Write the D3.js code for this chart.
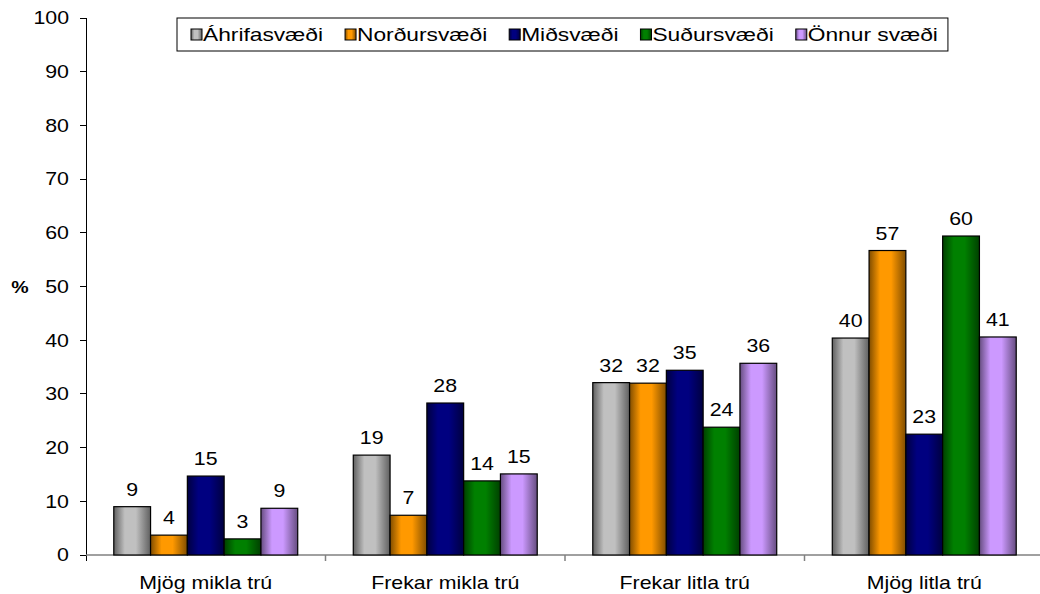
<!DOCTYPE html>
<html><head><meta charset="utf-8">
<script src="https://cdn.jsdelivr.net/npm/d3@7"></script>
<style>body{margin:0;background:#fff}svg{display:block}</style>
</head><body>
<svg id="c" width="1040" height="594"></svg>
<script>
const categories = ["Mjög mikla trú", "Frekar mikla trú", "Frekar litla trú", "Mjög litla trú"];
const seriesNames = ["Áhrifasvæði", "Norðursvæði", "Miðsvæði", "Suðursvæði", "Önnur svæði"];
const seriesColors = ["#c0c0c0", "#ff9900", "#000080", "#008000", "#cc99ff"];
const valAhrif  = [9.0, 18.6, 32.1, 40.4];
const valNordur = [3.7, 7.4, 32.0, 56.7];
const valMid    = [14.7, 28.3, 34.4, 22.5];
const valSudur  = [3.0, 13.8, 23.8, 59.4];
const valOnnur  = [8.7, 15.1, 35.7, 40.6];
const labelsAhrif  = ["9", "19", "32", "40"];
const labelsNordur = ["4", "7", "32", "57"];
const labelsMid    = ["15", "28", "35", "23"];
const labelsSudur  = ["3", "14", "24", "60"];
const labelsOnnur  = ["9", "15", "36", "41"];
const yTicks = [0, 10, 20, 30, 40, 50, 60, 70, 80, 90, 100];

const seriesVals = [valAhrif, valNordur, valMid, valSudur, valOnnur];
const seriesLabels = [labelsAhrif, labelsNordur, labelsMid, labelsSudur, labelsOnnur];

const svg = d3.select("#c");
const FONT = "'Liberation Sans', Arial, sans-serif";
const FS = 17.5, SX = 1.22;

function txt(g, x, yy, s, anchor, opts) {
  opts = opts || {};
  return g.append("text")
    .attr("transform", `translate(${x},${yy}) scale(${opts.sx || SX},1)`)
    .attr("text-anchor", anchor)
    .attr("font-family", FONT)
    .attr("font-size", opts.fs || FS)
    .attr("font-weight", opts.bold ? "bold" : "normal")
    .attr("fill", "#000")
    .text(s);
}

const pLeft = 86, pRight = 1044, pTop = 18, pBottom = 555;
const x0 = d3.scaleBand().domain(categories).range([pLeft, pRight]);
const x1 = d3.scaleBand().domain(seriesNames).range([0, x0.bandwidth()]).paddingOuter(0.755).paddingInner(0);
const y = d3.scaleLinear().domain([0, 100]).range([pBottom, pTop]);

// gradients
const defs = svg.append("defs");
seriesColors.forEach((c, i) => {
  const g = defs.append("linearGradient").attr("id", "g" + i)
    .attr("x1", "0").attr("x2", "1").attr("y1", "0").attr("y2", "0");
  const base = d3.rgb(c);
  const dk = (f) => d3.rgb(base.r * f, base.g * f, base.b * f).formatHex();
  g.append("stop").attr("offset", "0").attr("stop-color", dk(0.5));
  g.append("stop").attr("offset", "0.3").attr("stop-color", c);
  g.append("stop").attr("offset", "0.6").attr("stop-color", c);
  g.append("stop").attr("offset", "1").attr("stop-color", dk(0.5));
});

// y axis
const yAxisG = svg.append("g");
yAxisG.append("line").attr("x1", pLeft).attr("x2", pLeft).attr("y1", y(100)).attr("y2", pBottom + 6)
  .attr("stroke", "#000").attr("stroke-width", 1).attr("shape-rendering", "crispEdges");
yTicks.forEach(t => {
  yAxisG.append("line").attr("x1", pLeft - 6).attr("x2", pLeft).attr("y1", y(t)).attr("y2", y(t))
    .attr("stroke", "#000").attr("shape-rendering", "crispEdges");
  txt(yAxisG, 69, y(t) + 6.3, String(t), "end");
});
txt(svg, 20, 293, "%", "middle", { bold: true, sx: 1.15, fs: 17 });

// x axis
svg.append("line").attr("x1", pLeft).attr("x2", 1040).attr("y1", pBottom).attr("y2", pBottom)
  .attr("stroke", "#808080").attr("stroke-width", 1.5);
categories.forEach((c, i) => {
  if (i > 0) {
    const bx = x0(c);
    svg.append("line").attr("x1", bx).attr("x2", bx).attr("y1", pBottom).attr("y2", pBottom + 6)
      .attr("stroke", "#808080").attr("stroke-width", 1.5);
  }
  txt(svg, x0(c) + x0.bandwidth() / 2, 589, c, "middle");
});

// bars
seriesNames.forEach((s, si) => {
  const g = svg.append("g");
  categories.forEach((c, ci) => {
    const v = seriesVals[si][ci];
    const bx = x0(c) + x1(s);
    g.append("rect").attr("x", bx).attr("y", y(v)).attr("width", x1.bandwidth()).attr("height", y(0) - y(v))
      .attr("fill", `url(#g${si})`).attr("stroke", "#000").attr("stroke-width", 1.2);
    txt(g, bx + x1.bandwidth() / 2, y(v) - 11, seriesLabels[si][ci], "middle");
  });
});

// legend
const lg = svg.append("g");
const lx0 = 177, ly0 = 18, lh = 33;
const gap = 22, LSX = 1.3;
let cx = lx0 + 14;
seriesNames.forEach((s, i) => {
  lg.append("rect").attr("x", cx).attr("y", ly0 + 11).attr("width", 11).attr("height", 11)
    .attr("fill", `url(#g${i})`).attr("stroke", "#000").attr("stroke-width", 1);
  const t = txt(lg, cx + 12, ly0 + 23, s, "start", { sx: LSX });
  const w = t.node().getComputedTextLength() * LSX;
  cx = cx + 12 + w + gap;
});
lg.insert("rect", ":first-child").attr("x", lx0).attr("y", ly0).attr("width", cx - gap + 10 - lx0).attr("height", lh)
  .attr("fill", "#fff").attr("stroke", "#000").attr("stroke-width", 1);
</script>
</body></html>
